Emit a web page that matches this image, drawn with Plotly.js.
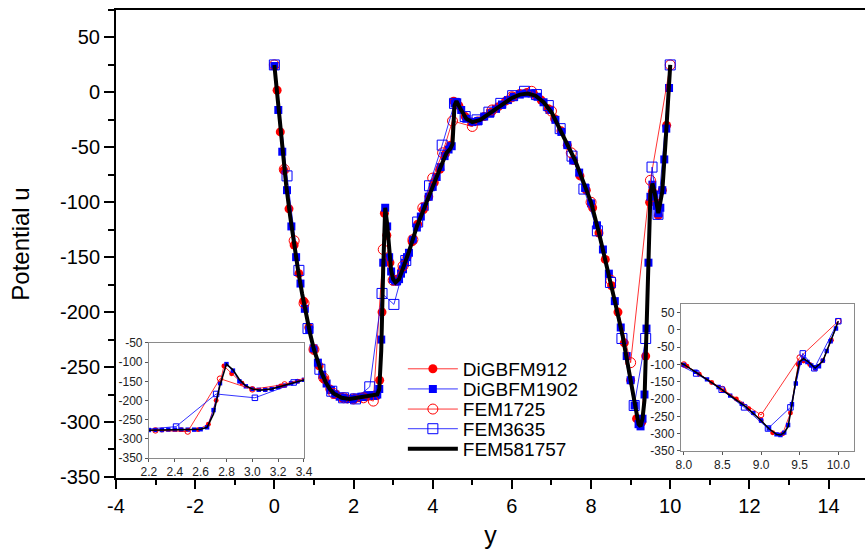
<!DOCTYPE html>
<html>
<head>
<meta charset="utf-8">
<script src="https://cdn.plot.ly/plotly-3.0.1.min.js"></script>
<style>
  html, body { margin: 0; padding: 0; background: #fff; }
  #chart { width: 865px; height: 552px; }
</style>
</head>
<body>
<div id="chart"></div>
<script>
// DiGBFM912 (red filled circles)
var x912 = [0.07,0.15,0.24,0.37,0.5,0.62,0.74,0.87,1.0,1.13,1.26,1.4,1.55,1.7,1.85,2.0,2.15,2.3,2.45,2.58,2.66,2.72,2.78,2.84,2.92,3.0,3.1,3.22,3.35,3.48,3.62,3.76,3.9,4.04,4.18,4.32,4.45,4.53,4.66,4.82,4.98,5.14,5.3,5.48,5.66,5.84,6.02,6.2,6.38,6.56,6.74,6.92,7.08,7.24,7.4,7.56,7.72,7.88,8.04,8.2,8.36,8.52,8.68,8.84,9.0,9.15,9.28,9.38,9.48,9.55,9.63,9.7,9.8,9.91];
var u912 = [2,-36,-71,-106,-139,-165,-190,-214,-234,-249,-261,-270,-275,-278,-279,-279,-278,-277,-276,-276,-262,-200,-110,-130,-155,-170,-172,-162,-150,-136,-120,-107,-95,-82,-70,-56,-48,-8,-12,-22,-27,-26,-22,-18,-13,-8,-4,-1,0,-2,-7,-15,-24,-35,-48,-62,-76,-89,-105,-128,-152,-176,-200,-228,-262,-297,-300,-240,-100,-90,-100,-112,-89,-30];

// DiGBFM1902 (blue filled squares)
var x1902 = [0,0.1,0.2,0.32,0.43,0.55,0.66,0.77,0.88,0.99,1.1,1.21,1.32,1.43,1.54,1.65,1.76,1.87,1.98,2.09,2.2,2.25,2.3,2.35,2.4,2.45,2.5,2.55,2.6,2.65,2.7,2.75,2.8,2.85,2.9,2.95,3.0,3.05,3.1,3.15,3.2,3.25,3.3,3.35,3.4,3.5,3.6,3.7,3.8,3.9,4.0,4.1,4.2,4.3,4.4,4.48,4.55,4.62,4.72,4.85,5.0,5.15,5.3,5.45,5.6,5.75,5.9,6.05,6.2,6.35,6.5,6.65,6.8,6.95,7.1,7.25,7.4,7.55,7.7,7.85,8.0,8.15,8.3,8.45,8.6,8.75,8.9,9.0,9.1,9.2,9.25,9.3,9.35,9.4,9.45,9.5,9.55,9.6,9.65,9.7,9.75,9.8,9.85,9.9,9.97];
var u1902 = [24,-16,-54,-89,-122,-150,-174,-197,-216,-233,-246,-257,-265,-271,-275,-277,-278,-279,-279,-278,-277,-277,-277,-276,-276,-276,-276,-276,-275,-270,-225,-155,-105,-122,-150,-163,-170,-172,-172,-170,-165,-161,-155,-150,-146,-134,-123,-113,-104,-95,-86,-77,-68,-58,-52,-49,-10,-9,-16,-24,-27,-26,-22,-19,-15,-11,-7,-4,-2,-1,-1,-4,-9,-16,-25,-36,-48,-62,-73,-87,-101,-121,-143,-165,-190,-214,-240,-262,-285,-302,-304,-297,-275,-215,-155,-95,-84,-93,-103,-110,-105,-89,-61,-33,4];

// FEM1725 (red open circles)
var x1725 = [0,0.25,0.5,0.75,1.0,1.25,1.5,1.75,2.0,2.25,2.5,2.75,3.0,3.25,3.5,3.75,4.0,4.25,4.5,5.0,5.5,6.0,6.5,7.0,7.5,8.0,8.5,9.0,9.5,10.0];
var u1725 = [25,-70,-135,-192,-234,-260,-274,-278,-279,-278,-281,-143,-171,-158,-134,-105,-78,-55,-26,-31,-16,-4,1,-17,-55,-100,-171,-246,-80,25];

// FEM3635 (blue open squares)
var x3635 = [0,0.32,0.62,0.85,1.15,1.45,1.75,2.05,2.41,2.72,3.02,3.32,3.62,3.92,4.24,4.55,4.82,5.12,5.42,5.72,6.02,6.32,6.62,6.92,7.22,7.52,7.82,8.16,8.49,8.78,9.09,9.38,9.54,9.69,10.0];
var u3635 = [25,-76,-162,-215,-252,-272,-278,-279,-268,-183,-193,-153,-118,-85,-48,-10,-22,-25,-18,-10,-3,1,-2,-12,-33,-58,-88,-126,-173,-224,-285,-224,-68,-111,25];

// FEM581757 (reference solution, black line)
var xFine = [0,0.1,0.2,0.3,0.4,0.5,0.6,0.7,0.8,0.9,1.0,1.1,1.2,1.3,1.4,1.5,1.7,1.9,2.1,2.3,2.5,2.6,2.65,2.7,2.75,2.8,2.85,2.9,2.95,3.0,3.06,3.15,3.25,3.4,3.6,3.8,4.0,4.2,4.35,4.45,4.5,4.55,4.6,4.7,4.85,5.0,5.2,5.4,5.6,5.8,6.0,6.2,6.4,6.6,6.8,7.0,7.2,7.4,7.6,7.8,8.0,8.2,8.4,8.6,8.8,9.0,9.1,9.2,9.25,9.3,9.35,9.4,9.45,9.5,9.55,9.6,9.7,9.8,9.9,10.0];
var uFine = [25,-15,-52,-85,-113,-139,-162,-183,-202,-219,-234,-246,-256,-264,-270,-274,-278,-279,-278,-277,-276,-275,-270,-235,-160,-105,-120,-145,-162,-170,-173,-170,-160,-145,-122,-105,-86,-68,-55,-51,-47,-12,-8,-15,-24,-27,-25,-20,-15,-10,-5,-2,-1,-3,-9,-18,-32,-46,-62,-81,-100,-128,-158,-190,-222,-262,-285,-302,-304,-297,-280,-215,-145,-92,-83,-90,-110,-90,-35,25];

// tick labels (plain hyphen minus, as in the figure)
var xTicks = [-4,-2,0,2,4,6,8,10,12,14];
var xTickText = ['-4','-2','0','2','4','6','8','10','12','14'];
var yTicks = [-350,-300,-250,-200,-150,-100,-50,0,50];
var yTickText = ['-350','-300','-250','-200','-150','-100','-50','0','50'];
var in1XTicks = [2.2,2.4,2.6,2.8,3.0,3.2,3.4];
var in1XText = ['2.2','2.4','2.6','2.8','3.0','3.2','3.4'];
var in1YTicks = [-350,-300,-250,-200,-150,-100,-50];
var in1YText = ['-350','-300','-250','-200','-150','-100','-50'];
var in2XTicks = [8.0,8.5,9.0,9.5,10.0];
var in2XText = ['8.0','8.5','9.0','9.5','10.0'];

var RED = '#ff0000';
var BLUE = '#0000ff';

// build the five series for one set of axes; s scales marker size
function series(xa, ya, s, big) {
    return [
        { x: x912, y: u912, name: 'DiGBFM912', legend: 'legend', xaxis: xa, yaxis: ya, showlegend: big,
          mode: 'lines+markers', line: { color: RED, width: 0.8 },
          marker: { symbol: 'circle', color: RED, size: 9 * s } },
        { x: x1902, y: u1902, name: 'DiGBFM1902', legend: 'legend2', xaxis: xa, yaxis: ya, showlegend: big,
          mode: 'lines+markers', line: { color: BLUE, width: 0.8 },
          marker: { symbol: 'square', color: BLUE, size: 8 * s } },
        { x: x1725, y: u1725, name: 'FEM1725', legend: 'legend3', xaxis: xa, yaxis: ya, showlegend: big,
          mode: 'lines+markers', line: { color: RED, width: 0.8 },
          marker: { symbol: 'circle-open', color: RED, size: 10 * s, line: { width: 1 } } },
        { x: x3635, y: u3635, name: 'FEM3635', legend: 'legend4', xaxis: xa, yaxis: ya, showlegend: big,
          mode: 'lines+markers', line: { color: BLUE, width: 0.8 },
          marker: { symbol: 'square-open', color: BLUE, size: 10 * s, line: { width: 1 } } },
        { x: xFine, y: uFine, name: 'FEM581757', legend: 'legend5', xaxis: xa, yaxis: ya, showlegend: big,
          mode: 'lines', line: { color: '#000', width: big ? 4 : 1.5 } }
    ];
}

var data = series('x', 'y', 1, true)
    .concat(series('x2', 'y2', 0.55, false))
    .concat(series('x3', 'y3', 0.55, false));

// one legend box per row so the rows sit as tight as in the figure
function legendRow(y) {
    return {
        x: 0.383, y: y, xanchor: 'left', yanchor: 'middle',
        bgcolor: 'rgba(0,0,0,0)', font: { size: 19 }, itemwidth: 50
    };
}

var insetAxis = {
    showline: true, linecolor: '#8a8a8a', linewidth: 1, mirror: true,
    ticks: 'outside', ticklen: 3, tickcolor: '#555', tickwidth: 1,
    showgrid: false, zeroline: false, tickmode: 'array',
    tickfont: { size: 12, color: '#222' }
};

var layout = {
    width: 865, height: 552,
    margin: { l: 116, r: 0, t: 10, b: 74 },
    paper_bgcolor: '#fff', plot_bgcolor: '#fff',
    font: { family: 'Liberation Sans, Arial, sans-serif', color: '#000' },
    showlegend: true,
    legend: legendRow(0.233),
    legend2: legendRow(0.190),
    legend3: legendRow(0.147),
    legend4: legendRow(0.105),
    legend5: legendRow(0.062),
    xaxis: {
        domain: [0, 1], range: [-4, 14.92],
        tickmode: 'array', tickvals: xTicks, ticktext: xTickText,
        ticks: 'outside', ticklen: 9, tickwidth: 2, tickcolor: '#000',
        minor: { tickmode: 'linear', tick0: 0, dtick: 1, ticks: 'outside', ticklen: 5, tickwidth: 2, tickcolor: '#000' },
        showline: true, linewidth: 2, linecolor: '#000', mirror: true,
        showgrid: false, zeroline: false,
        tickfont: { size: 20 },
        title: { text: 'y', font: { size: 25 }, standoff: 10 }
    },
    yaxis: {
        domain: [0, 1], range: [-351, 75],
        tickmode: 'array', tickvals: yTicks, ticktext: yTickText,
        ticks: 'outside', ticklen: 10, tickwidth: 2, tickcolor: '#000',
        minor: { tickmode: 'linear', tick0: 0, dtick: 25, ticks: 'outside', ticklen: 6, tickwidth: 2, tickcolor: '#000' },
        showline: true, linewidth: 2, linecolor: '#000',
        showgrid: false, zeroline: false,
        tickfont: { size: 20 },
        title: { text: 'Potential u', font: { size: 24 }, standoff: 24 }
    },
    xaxis2: Object.assign({}, insetAxis, {
        domain: [0.044, 0.251], anchor: 'y2', range: [2.2, 3.4],
        tickvals: in1XTicks, ticktext: in1XText
    }),
    yaxis2: Object.assign({}, insetAxis, {
        domain: [0.0427, 0.2885], anchor: 'x2', range: [-350, -50],
        tickvals: in1YTicks, ticktext: in1YText
    }),
    xaxis3: Object.assign({}, insetAxis, {
        domain: [0.754, 0.985], anchor: 'y3', range: [7.96, 10.2],
        tickvals: in2XTicks, ticktext: in2XText
    }),
    yaxis3: Object.assign({}, insetAxis, {
        domain: [0.0577, 0.372], anchor: 'x3', range: [-350, 75],
        tickvals: yTicks, ticktext: yTickText
    })
};

Plotly.newPlot('chart', data, layout, { displayModeBar: false, staticPlot: true });
</script>
</body>
</html>
